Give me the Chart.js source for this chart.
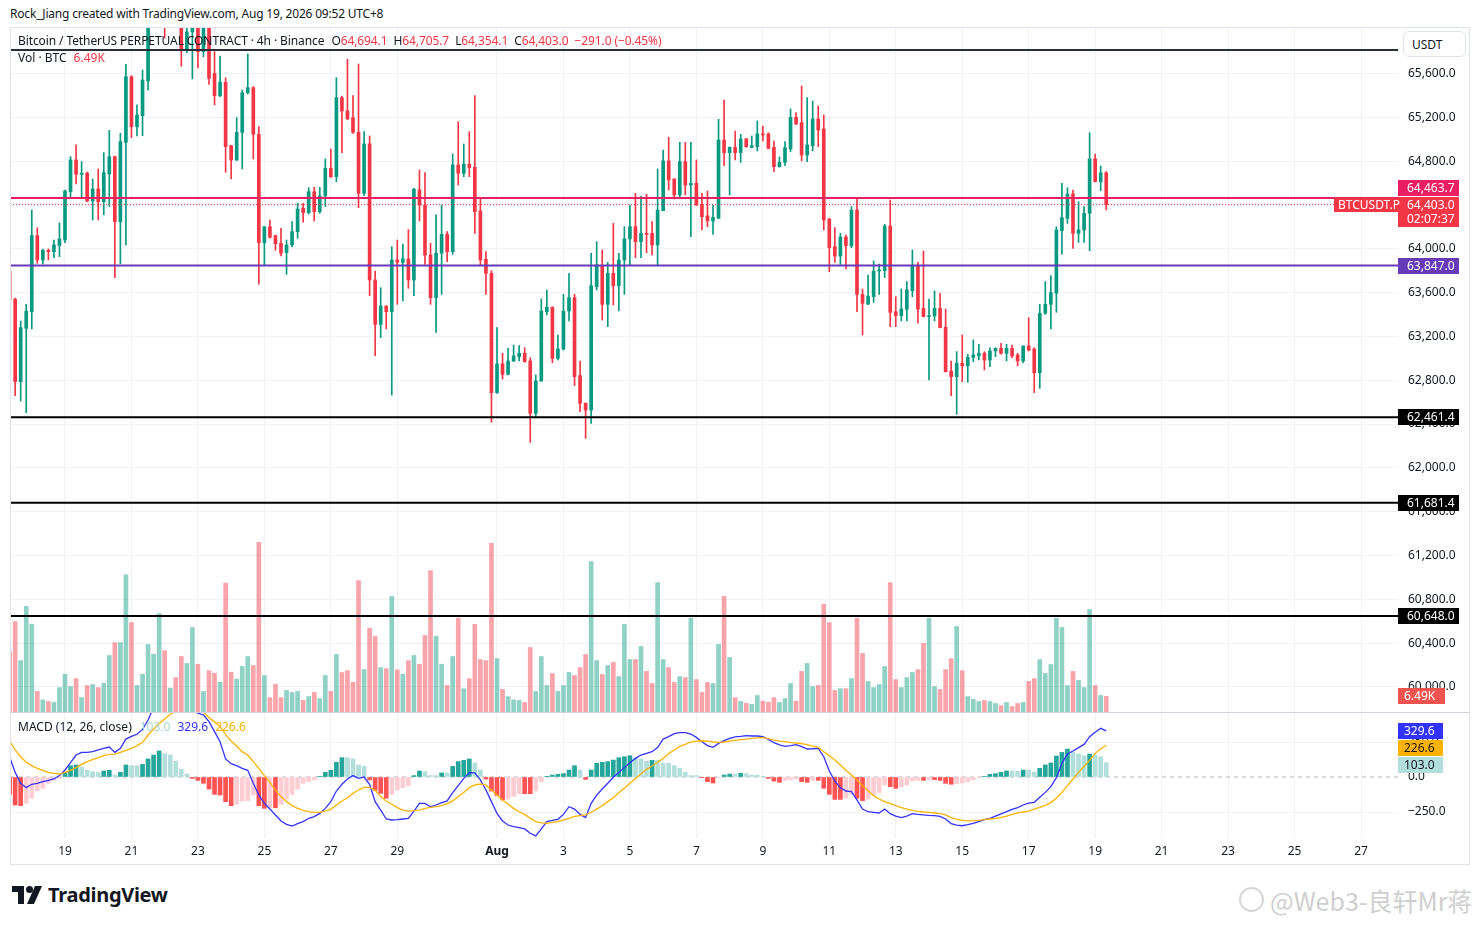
<!DOCTYPE html>
<html lang="en">
<head>
<meta charset="UTF-8">
<title>BTCUSDT.P 4h</title>
<script src="https://cdn.jsdelivr.net/npm/chart.js"></script>
<style>
  body { margin: 0; background: #fff; font-family: 'Noto Sans', sans-serif; color: #131722; }
  .wrap { position: relative; width: 1481px; height: 925px; overflow: hidden; background: #fff; }
  .abs { position: absolute; white-space: nowrap; }
  .pane { position: absolute; left: 10px; width: 1460px; }
  .txt { font-size: 12px; line-height: 16px; height: 16px; }
  .red { color: #f23645; }
  .tag { position: absolute; left: 1398px; width: 61px; font-size: 12px; line-height: 16px; color: #fff; padding-left: 9px; box-sizing: border-box; white-space: nowrap; }
  .frame { position: absolute; left: 10px; top: 27px; width: 1460px; height: 838px; border: 1px solid #e0e3eb; box-sizing: border-box; pointer-events: none; }
</style>
</head>
<body>
<div class="wrap" id="wrap">
  <div class="abs txt" style="left:10px; top:6px; letter-spacing:-0.2px;">Rock_Jiang created with TradingView.com, Aug 19, 2026 09:52 UTC+8</div>

  <div class="pane" style="top:27px; height:686px;"><canvas id="main" width="1460" height="686"></canvas></div>
  <div class="pane" style="top:713px; height:152px;"><canvas id="macd" width="1460" height="152"></canvas></div>

  <div class="frame"></div>
  <div class="abs" style="left:10px; top:712px; width:1460px; height:1px; background:#d1d4dc;"></div>

  <div class="abs txt" id="legend1" style="left:18px; top:33px; letter-spacing:-0.1px;"></div>
  <div class="abs txt" id="legend2" style="left:18px; top:50px;"></div>
  <div class="abs txt" id="legend3" style="left:18px; top:719px;"></div>

  <div class="abs txt" style="left:1403px; top:31px; width:63px; height:26px; line-height:26px; border:1px solid #e0e3eb; border-radius:6px; box-sizing:border-box; padding-left:8px; background:#fff;">USDT</div>

  <div id="tags"></div>

  <svg class="abs" style="left:12px; top:886px;" width="30" height="18" viewBox="0 0 30 18">
    <path d="M0 0 H12 V18 H6 V6 H0 Z" fill="#131722"/>
    <circle cx="17.5" cy="3.5" r="3.5" fill="#131722"/>
    <path d="M23 0 H30 L22 18 H15 Z" fill="#131722"/>
  </svg>
  <div class="abs" style="left:48px; top:881px; font-size:20px; line-height:28px; font-weight:700; letter-spacing:-0.3px;">TradingView</div>

  <div class="abs" style="left:1239px; top:887px; width:25px; height:25px; border:2px solid #d6d6d6; border-radius:50%; box-sizing:border-box;"></div>
  <div class="abs" style="left:1270px; top:883px; font-family:'Noto Sans CJK SC', 'Noto Sans', sans-serif; font-size:25px; line-height:34px; color:#cfcfcf;">@Web3-良轩Mr蒋</div>
</div>

<script>
// candle index: 0 = Jul 19 00:00 (UTC+8), one step = 4h; first bar is Jul 17 08:00
const firstIndex = -10;

const opens = [
  63797, 63540, 62787, 63274, 63426, 64120, 63898, 63986, 63974, 64029,
  64080, 64522, 64811, 64680, 64690, 64436, 64546, 64430, 64683, 64841,
  64248, 64972, 65571, 65115, 65215, 65532, 66150, 66250, 66400, 66150,
  66300, 66150, 65815, 65980, 66060, 65800, 66100, 65600, 65398, 65520,
  64941, 64811, 65063, 65425, 65471, 65045, 64056, 64202, 64120, 64050,
  63965, 64035, 64156, 64369, 64330, 64521, 64339, 64482, 64735, 64658,
  65380, 65258, 65197, 65063, 64506, 64957, 63715, 63310, 63478, 63426,
  63898, 63876, 63907, 63715, 64537, 64400, 63943, 63554, 63959, 64132,
  63974, 64765, 64689, 64771, 64744, 64345, 63904, 63776, 62687, 62949,
  62854, 62976, 63016, 63046, 62976, 62498, 62793, 63426, 63466, 63000,
  63085, 63432, 63554, 62842, 62589, 62528, 63654, 63846, 63493, 63776,
  63663, 63898, 64090, 64202, 64065, 64141, 64141, 64035, 64348, 64802,
  64637, 64491, 64796, 64582, 64598, 64406, 64300, 64254, 64278, 64993,
  64878, 64926, 64878, 65002, 64926, 64932, 65048, 65048, 64926, 64750,
  64789, 64911, 65200, 65152, 64856, 64941, 65185, 65094, 64272, 64019,
  63934, 64108, 64026, 64354, 63584, 63496, 63563, 63797, 63800, 64208,
  63426, 63390, 63447, 63618, 63846, 63456, 63381, 63387, 63456, 63283,
  62884, 62833, 62955, 62933, 63009, 63025, 63046, 62985, 63067, 63091,
  63046, 63091, 63031, 62976, 63113, 63085, 62869, 63411, 63493, 63594,
  64166, 64278, 64500, 64141, 64172, 64324, 64820, 64613, 64694.1
];
const highs = [
  64050, 63550, 63341, 63493, 64354, 64193, 63998, 63998, 64080, 64236,
  64535, 64841, 64948, 64796, 64700, 64637, 64729, 64878, 65081, 64847,
  65054, 65684, 65580, 65313, 65632, 66250, 66350, 66500, 66450, 66380,
  66350, 66200, 66080, 66100, 66120, 66200, 66150, 65800, 65760, 65562,
  64945, 65197, 65450, 65778, 65480, 65115, 64202, 64263, 64125, 64187,
  64080, 64248, 64415, 64415, 64558, 64561, 64561, 64820, 64911, 65562,
  65395, 65730, 65398, 65687, 65069, 65030, 63797, 63645, 63480, 64019,
  64080, 64044, 64175, 64552, 64719, 64695, 64050, 64309, 64400, 64156,
  64865, 65160, 64957, 65069, 65398, 64461, 63974, 63800, 63280, 63046,
  63091, 63122, 63116, 63097, 63006, 62848, 63542, 63624, 63472, 63213,
  63584, 63776, 63584, 62976, 62595, 63959, 64065, 63989, 63876, 64232,
  63959, 64202, 64400, 64506, 64482, 64497, 64248, 64729, 64902, 65018,
  64640, 64972, 64972, 64972, 64811, 64506, 64528, 64400, 65182, 65358,
  64930, 65075, 65045, 65008, 65030, 65167, 65121, 65060, 64984, 64838,
  64978, 65276, 65243, 65486, 65380, 65349, 65304, 65221, 64275, 64193,
  64141, 64126, 64385, 64470, 63633, 63761, 63889, 63861, 64223, 64445,
  63563, 63633, 63700, 63989, 63876, 63980, 63542, 63615, 63593, 63450,
  62976, 63061, 63213, 63037, 63168, 63128, 63061, 63097, 63097, 63137,
  63128, 63122, 63046, 63113, 63371, 63097, 63493, 63700, 63755, 64202,
  64598, 64558, 64537, 64430, 64385, 65060, 64865, 64756, 64705.7
];
const lows = [
  63365, 62659, 62611, 62504, 63268, 63867, 63861, 63898, 63919, 63928,
  64056, 64476, 64592, 64461, 64430, 64263, 64263, 64309, 64385, 63737,
  63864, 64035, 65015, 65030, 65033, 65450, 66080, 66200, 65924, 66100,
  66080, 65667, 65790, 65550, 65650, 65753, 65500, 65313, 65389, 64698,
  64637, 64805, 64729, 65413, 64820, 63676, 63852, 64096, 63986, 63934,
  63767, 64019, 64096, 64242, 64318, 64254, 64324, 64385, 64652, 64613,
  64878, 65180, 65054, 64375, 64485, 63572, 63024, 63189, 63268, 62665,
  63493, 63523, 63639, 63572, 64254, 63858, 63493, 63237, 63584, 63882,
  63950, 64582, 64658, 64658, 64141, 63846, 63584, 62416, 62680, 62811,
  62848, 62970, 62976, 62965, 62233, 62468, 62790, 63396, 62960, 62985,
  63076, 63341, 62751, 62513, 62270, 62407, 63624, 63350, 63289, 63487,
  63432, 63584, 63852, 63919, 63919, 63965, 63943, 63852, 64345, 64537,
  64455, 64467, 64491, 64111, 64395, 64172, 64202, 64132, 64275, 64759,
  64491, 64811, 64789, 64926, 64920, 64893, 64984, 64911, 64704, 64745,
  64759, 64887, 65135, 64802, 64796, 64893, 64932, 64172, 63791, 63876,
  63858, 63816, 64010, 63426, 63213, 63490, 63511, 63584, 63737, 63289,
  63289, 63341, 63341, 63563, 63320, 63378, 62803, 63341, 63278, 62875,
  62659, 62489, 62787, 62781, 62970, 62985, 62894, 62924, 63015, 63037,
  62976, 63006, 62933, 62960, 63067, 62687, 62726, 63402, 63268, 63420,
  63950, 64232, 64004, 64059, 64059, 63983, 64610, 64531, 64354.1
];
const closes = [
  63533, 62787, 63280, 63432, 64120, 63898, 63986, 63974, 64035, 64090,
  64528, 64811, 64680, 64690, 64436, 64546, 64430, 64695, 64841, 64248,
  64978, 65571, 65115, 65221, 65541, 66150, 66250, 66400, 66150, 66300,
  66150, 65815, 65980, 66060, 65800, 66100, 65556, 65398, 65520, 64932,
  64811, 65063, 65425, 65471, 65045, 64056, 64202, 64105, 64047, 63959,
  64035, 64156, 64363, 64330, 64521, 64339, 64482, 64735, 64658, 65380,
  65258, 65185, 65063, 64506, 64957, 63715, 63310, 63478, 63426, 63898,
  63876, 63907, 63715, 64543, 64400, 63943, 63554, 63959, 64132, 63974,
  64765, 64689, 64771, 64741, 64339, 63898, 63776, 62687, 62949, 62854,
  62976, 63022, 63046, 62970, 62498, 62793, 63432, 63466, 63000, 63085,
  63432, 63554, 62833, 62589, 62528, 63663, 63852, 63493, 63776, 63663,
  63898, 64090, 64202, 64065, 64141, 64132, 64035, 64354, 64802, 64628,
  64491, 64796, 64582, 64598, 64400, 64293, 64254, 64287, 64993, 64878,
  64926, 64878, 65002, 64932, 64941, 65048, 65039, 64917, 64750, 64789,
  64923, 65200, 65139, 64856, 64948, 65185, 65084, 64263, 64010, 63934,
  64108, 64029, 64354, 63584, 63502, 63569, 63797, 63806, 64208, 63420,
  63390, 63450, 63624, 63846, 63450, 63381, 63390, 63456, 63280, 62878,
  62833, 62955, 62933, 63009, 63031, 63046, 62985, 63067, 63091, 63046,
  63091, 63022, 62976, 63113, 63076, 62869, 63411, 63493, 63600, 64172,
  64284, 64500, 64141, 64172, 64324, 64820, 64613, 64694.0, 64403.0
];
// volume in thousands of BTC
const volumes = [
  23.6, 35.6, 20.4, 41.5, 34.6, 8.4, 5.1, 4.5, 4.1, 9.9,
  15.1, 10.3, 13.4, 6.0, 10.7, 11.1, 9.9, 11.6, 22.4, 27.4,
  27.4, 53.8, 35.2, 10.7, 15.1, 26.7, 22.9, 38.7, 24.3, 9.7,
  13.8, 22.0, 19.3, 33.3, 19.0, 8.4, 16.5, 15.5, 12.0, 50.6,
  15.9, 13.2, 18.1, 22.0, 18.5, 66.5, 14.6, 6.0, 11.2, 6.0,
  8.8, 8.0, 8.4, 4.9, 6.4, 8.0, 5.6, 14.6, 8.4, 22.8,
  15.8, 16.5, 12.0, 51.6, 16.9, 33.0, 29.8, 17.7, 17.3, 45.4,
  16.8, 15.1, 20.4, 22.4, 19.0, 30.2, 55.5, 29.8, 19.0, 10.7,
  22.0, 36.9, 9.5, 13.4, 34.5, 20.8, 20.4, 66.1, 21.2, 9.2,
  6.4, 5.1, 4.9, 4.1, 25.5, 8.4, 22.0, 10.7, 15.4, 8.4,
  10.7, 15.8, 14.6, 17.7, 22.8, 59.0, 20.4, 15.0, 18.5, 19.7,
  14.2, 34.5, 20.8, 20.8, 25.9, 16.2, 11.5, 50.8, 20.8, 17.7,
  11.9, 14.2, 13.8, 36.9, 13.0, 8.0, 11.9, 11.5, 26.7, 45.4,
  21.6, 6.0, 4.5, 3.8, 3.4, 6.8, 4.6, 4.2, 6.0, 4.1,
  5.6, 11.5, 4.6, 16.2, 19.3, 10.3, 10.7, 42.3, 35.2, 8.8,
  9.5, 9.5, 13.4, 36.9, 23.2, 12.3, 9.9, 11.1, 18.1, 50.8,
  13.0, 9.9, 13.8, 15.8, 16.9, 27.1, 36.9, 10.3, 9.2, 16.9,
  21.2, 33.7, 16.5, 6.4, 5.3, 4.5, 4.9, 4.5, 3.7, 2.9,
  4.1, 2.5, 3.7, 4.1, 12.3, 13.4, 20.8, 15.4, 18.9, 36.9,
  33.3, 10.7, 16.2, 12.7, 9.9, 40.3, 10.7, 6.8, 6.49
];
const macdLine = [
  145, 33, -45, -76, -52, -45, -33, -24, -14, 10,
  50, 102, 157, 176, 176, 181, 193, 205, 214, 176,
  205, 271, 290, 305, 340, 407, 500, 569, 574, 600,
  584, 535, 506, 476, 456, 443, 395, 324, 252, 129,
  95, 81, 62, 48, -45, -129, -188, -229, -271, -314,
  -338, -350, -333, -319, -295, -283, -260, -224, -176, -100,
  -52, -14, 10, -10, 0, -52, -176, -236, -300, -307,
  -305, -300, -295, -243, -188, -188, -212, -200, -183, -171,
  -112, -62, -10, 31, 29, -21, -93, -176, -260, -314,
  -343, -355, -362, -371, -402, -421, -371, -319, -310, -302,
  -267, -212, -229, -267, -290, -188, -129, -86, -45, -2,
  33, 67, 102, 133, 157, 169, 181, 210, 271, 288,
  310, 317, 317, 307, 283, 252, 224, 212, 240, 260,
  276, 286, 290, 295, 293, 293, 288, 269, 245, 229,
  219, 224, 231, 217, 200, 202, 205, 145, 43, -29,
  -76, -100, -105, -164, -229, -248, -252, -257, -229, -262,
  -279, -290, -279, -262, -267, -271, -274, -276, -281, -300,
  -333, -343, -348, -340, -331, -319, -305, -295, -279, -264,
  -248, -231, -219, -200, -186, -181, -145, -110, -69, -5,
  98, 164, 186, 210, 233, 288, 319, 348, 329.6
];
const signalLine = [
  257, 193, 145, 105, 81, 62, 48, 33, 26, 21,
  33, 48, 67, 90, 110, 124, 138, 152, 162, 164,
  176, 190, 205, 224, 248, 300, 343, 383, 414, 448,
  470, 480, 485, 486, 478, 462, 424, 395, 360, 305,
  257, 221, 181, 157, 110, 62, 10, -38, -93, -140,
  -176, -205, -224, -238, -248, -252, -252, -243, -229, -200,
  -171, -148, -117, -93, -74, -74, -95, -140, -171, -195,
  -219, -236, -243, -240, -236, -224, -217, -212, -205, -190,
  -171, -140, -110, -76, -57, -50, -57, -93, -129, -164,
  -195, -224, -248, -267, -295, -319, -328, -331, -324, -319,
  -307, -295, -281, -276, -271, -252, -229, -205, -176, -148,
  -112, -81, -45, -10, 24, 55, 79, 105, 133, 167,
  193, 219, 233, 250, 257, 259, 257, 250, 248, 250,
  257, 262, 267, 271, 276, 279, 281, 274, 264, 257,
  252, 245, 243, 238, 231, 221, 212, 181, 152, 121,
  86, 48, 14, -21, -62, -98, -133, -157, -176, -190,
  -205, -219, -229, -238, -245, -250, -252, -257, -262, -271,
  -290, -302, -310, -314, -314, -310, -305, -300, -295, -288,
  -279, -267, -257, -250, -243, -229, -217, -202, -183, -152,
  -110, -62, -14, 33, 76, 119, 169, 200, 226.6
];
const histogram = [
  -124, -200, -205, -188, -152, -100, -81, -45, -24, -10,
  33, 81, 86, 71, 48, 38, 33, 43, 48, 14,
  33, 86, 81, 81, 90, 129, 157, 186, 167, 157,
  114, 55, 21, -10, -24, -45, -86, -124, -129, -176,
  -205, -195, -171, -169, -129, -205, -224, -219, -219, -195,
  -157, -124, -86, -45, -33, -21, 2, 33, 48, 105,
  138, 138, 129, 86, 76, -21, -95, -117, -152, -124,
  -93, -76, -62, 10, 43, 38, 10, 10, 29, 29,
  76, 110, 119, 129, 100, 50, -15, -100, -133, -164,
  -157, -138, -119, -119, -119, -100, -33, 5, 14, 19,
  24, 50, 81, 50, -17, 50, 98, 105, 110, 121,
  138, 145, 152, 138, 129, 114, 119, 119, 98, 98,
  81, 62, 33, 10, 10, -5, -33, -43, -5, 14,
  21, 21, 26, 24, 14, 14, 5, -10, -29, -38,
  -24, -19, -14, -33, -38, -24, -24, -81, -124, -160,
  -160, -150, -124, -152, -169, -157, -129, -110, -57, -69,
  -81, -71, -57, -29, -24, -24, -19, -19, -24, -45,
  -52, -48, -43, -33, -19, -3, 5, 19, 24, 33,
  43, 43, 40, 50, 50, 36, 62, 86, 100, 150,
  176, 200, 176, 164, 152, 164, 157, 145, 103.0
];

// time axis ticks (candle index of each labelled day) and their labels
const dayTickPos = [0, 12, 24, 36, 48, 60, 78, 90, 102, 114, 126, 138, 150, 162, 174, 186, 198, 210, 222, 234];
const dayTickLabels = ['19', '21', '23', '25', '27', '29', 'Aug', '3', '5', '7', '9', '11', '13', '15', '17', '19', '21', '23', '25', '27'];
const priceTicks = [60000, 60400, 60800, 61200, 61600, 62000, 62400, 62800, 63200, 63600, 64000, 64400, 64800, 65200, 65600];
const macdTicks = [-250, 0, 250];

// horizontal levels drawn on the chart
const levels = [65815, 64463.7, 63847.0, 62461.4, 61681.4, 60648.0];
const levelStyle = [
  { color: '#2a2e39', tag: null },
  { color: '#e91e63', tag: '#e91e63' },
  { color: '#673ab7', tag: '#673ab7' },
  { color: '#000000', tag: '#000000' },
  { color: '#000000', tag: '#000000' },
  { color: '#000000', tag: '#000000' }
];

// visible window
const X_MIN = -9.93, X_MAX = 240.68;
const Y_MIN = 59762.6, Y_MAX = 66024.5;
const VOL_MAX = 267.1;
const M_MIN = -435.7, M_MAX = 457.2;

const UP = '#089981', DOWN = '#f23645';
const VOL_UP = 'rgba(8,153,129,0.45)', VOL_DOWN = 'rgba(242,54,69,0.45)';
const GRID = '#f0f2f5';
const MACD_COLOR = '#3333ff', SIGNAL_COLOR = '#ffb300';

Chart.defaults.font.family = "'Noto Sans', sans-serif";
Chart.defaults.font.size = 12;
Chart.defaults.color = '#131722';

const idx = opens.map((_, i) => firstIndex + i);
const isUp = closes.map((c, i) => c >= opens[i]);
const candleColors = isUp.map(u => u ? UP : DOWN);
const last = closes.length - 1;

const fmt = v => {
  const s = Math.abs(v).toLocaleString('en-US', { minimumFractionDigits: 1, maximumFractionDigits: 1 });
  return v < 0 ? '\u2212' + s : s;
};

// keep the plot area exactly the size of the pane (no label padding)
const noPad = s => { s.paddingTop = 0; s.paddingBottom = 0; s.paddingLeft = 0; s.paddingRight = 0; };

const flatLine = (y, color, width, dash) => ({
  type: 'line',
  data: [{ x: X_MIN, y: y }, { x: X_MAX, y: y }],
  borderColor: color,
  borderWidth: width,
  borderDash: dash || [],
  pointRadius: 0,
  order: 1
});

const timeAxis = (showLabels) => ({
  type: 'linear',
  min: X_MIN,
  max: X_MAX,
  offset: false,
  afterBuildTicks: s => { s.ticks = dayTickPos.map(v => ({ value: v })); },
  grid: { color: GRID, drawTicks: false, offset: false },
  border: { display: false },
  ticks: {
    display: showLabels,
    autoSkip: false,
    maxRotation: 0,
    padding: 6,
    callback: (v, i) => dayTickLabels[i],
    font: ctx => ({ size: 12, weight: ctx.tick && ctx.tick.label === 'Aug' ? 'bold' : 'normal' })
  },
  afterFit: s => { s.height = showLabels ? 27 : 0; noPad(s); }
});

const priceAxis = (min, max, tickList) => ({
  type: 'linear', position: 'right',
  min: min, max: max,
  afterBuildTicks: s => { s.ticks = tickList.map(v => ({ value: v })); },
  grid: { color: GRID, drawTicks: false },
  border: { display: false },
  ticks: { padding: 10, autoSkip: false, callback: v => fmt(v) },
  afterFit: s => { s.width = 72; noPad(s); }
});

// main pane: candles + volume + levels
const mainChart = new Chart(document.getElementById('main'), {
  type: 'bar',
  data: {
    datasets: [
      {
        label: 'Vol', yAxisID: 'yVol',
        data: idx.map((x, i) => ({ x: x, y: volumes[i] })),
        backgroundColor: isUp.map(u => u ? VOL_UP : VOL_DOWN),
        barThickness: 4, grouped: false, order: 10
      },
      {
        label: 'wick', yAxisID: 'y',
        data: idx.map((x, i) => ({ x: x, y: [lows[i], highs[i]] })),
        backgroundColor: candleColors,
        barThickness: 1, grouped: false, order: 3
      },
      {
        label: 'body', yAxisID: 'y',
        data: idx.map((x, i) => ({ x: x, y: [opens[i], closes[i]] })),
        backgroundColor: candleColors,
        barThickness: 3, grouped: false, minBarLength: 1, order: 2
      },
      ...levels.map((v, k) => flatLine(v, levelStyle[k].color, 2)),
      flatLine(closes[last], DOWN, 1, [1, 2])
    ]
  },
  options: {
    responsive: false,
    animation: false,
    events: [],
    layout: { padding: 0 },
    plugins: { legend: { display: false }, tooltip: { enabled: false } },
    scales: {
      x: timeAxis(false),
      y: priceAxis(Y_MIN, Y_MAX, priceTicks),
      yVol: { type: 'linear', display: false, min: 0, max: VOL_MAX }
    }
  }
});

// MACD pane
const histColors = histogram.map((h, i) => {
  const prev = i > 0 ? histogram[i - 1] : h;
  if (h >= 0) return prev < h ? '#26a69a' : '#b2dfdb';
  return prev < h ? '#ffcdd2' : '#ff5252';
});

const macdY = priceAxis(M_MIN, M_MAX, macdTicks);
macdY.grid.color = ctx => ctx.tick && ctx.tick.value === 0 ? 'rgba(0,0,0,0)' : GRID;

const macdChart = new Chart(document.getElementById('macd'), {
  type: 'bar',
  data: {
    datasets: [
      Object.assign(flatLine(0, 'rgba(120,123,134,0.55)', 1, [4, 4]), { order: 6 }),
      {
        label: 'Histogram',
        data: idx.map((x, i) => ({ x: x, y: histogram[i] })),
        backgroundColor: histColors,
        barThickness: 4, grouped: false, order: 4
      },
      {
        type: 'line', label: 'MACD',
        data: idx.map((x, i) => ({ x: x, y: macdLine[i] })),
        borderColor: MACD_COLOR, borderWidth: 1.3, pointRadius: 0, tension: 0, order: 2
      },
      {
        type: 'line', label: 'Signal',
        data: idx.map((x, i) => ({ x: x, y: signalLine[i] })),
        borderColor: SIGNAL_COLOR, borderWidth: 1.3, pointRadius: 0, tension: 0, order: 1
      }
    ]
  },
  options: {
    responsive: false,
    animation: false,
    events: [],
    layout: { padding: 0 },
    plugins: { legend: { display: false }, tooltip: { enabled: false } },
    scales: {
      x: timeAxis(true),
      y: macdY
    }
  }
});

// legends
const span = (t, cls, style) => '<span' + (cls ? ' class="' + cls + '"' : '') + (style ? ' style="' + style + '"' : '') + '>' + t + '</span>';
const change = closes[last] - closes[last - 1];
const pct = change / closes[last - 1] * 100;
document.getElementById('legend1').innerHTML =
  'Bitcoin / TetherUS PERPETUAL CONTRACT \u00b7 4h \u00b7 Binance' +
  span('O' + span(fmt(opens[last]), 'red'), '', 'margin-left:7px') +
  span('H' + span(fmt(highs[last]), 'red'), '', 'margin-left:6px') +
  span('L' + span(fmt(lows[last]), 'red'), '', 'margin-left:6px') +
  span('C' + span(fmt(closes[last]), 'red'), '', 'margin-left:6px') +
  span(fmt(change) + ' (' + (pct < 0 ? '\u2212' : '+') + Math.abs(pct).toFixed(2) + '%)', 'red', 'margin-left:6px');
document.getElementById('legend2').innerHTML =
  'Vol \u00b7 BTC' + span(volumes[last].toFixed(2) + 'K', 'red', 'margin-left:7px');
document.getElementById('legend3').innerHTML =
  'MACD (12, 26, close)' +
  span(fmt(histogram[last]), '', 'margin-left:8px; color:#a8d8d3') +
  span(fmt(macdLine[last]), '', 'margin-left:7px; color:' + MACD_COLOR) +
  span(fmt(signalLine[last]), '', 'margin-left:7px; color:' + SIGNAL_COLOR);

// price-scale tags, placed from the scales
const tags = document.getElementById('tags');
function addTag(html, top, bg, opts) {
  const d = document.createElement('div');
  d.className = 'tag';
  d.innerHTML = html;
  d.style.top = top + 'px';
  d.style.background = bg;
  if (opts) Object.assign(d.style, opts);
  tags.appendChild(d);
  return d;
}
const MAIN_TOP = 27, MACD_TOP = 713;
const py = v => MAIN_TOP + mainChart.scales.y.getPixelForValue(v);

const curTop = Math.round(py(closes[last]) - 8);
addTag(fmt(closes[last]) + '<br>02:07:37', curTop, DOWN, { height: '30px', lineHeight: '14px', paddingTop: '1px' });
addTag('BTCUSDT.P', curTop + 1, DOWN, { left: '1334px', width: '64px', height: '14px', lineHeight: '14px', paddingLeft: '4px' });
levels.forEach((v, k) => {
  if (!levelStyle[k].tag) return;
  let top = Math.round(py(v) - 8);
  if (top + 16 > curTop && top < curTop + 30) top = curTop - 17;
  addTag(fmt(v), top, levelStyle[k].tag, { height: '16px' });
});
const volTop = Math.round(MAIN_TOP + mainChart.scales.yVol.getPixelForValue(volumes[last]) - 8);
addTag(volumes[last].toFixed(2) + 'K', volTop, '#ef5350', { width: '47px', height: '16px', paddingLeft: '6px' });

const my = v => MACD_TOP + macdChart.scales.y.getPixelForValue(v);
const t1 = Math.round(my(macdLine[last]) - 8);
addTag(fmt(macdLine[last]), t1, MACD_COLOR, { width: '45px', height: '16px', paddingLeft: '6px' });
addTag(fmt(signalLine[last]), t1 + 17, SIGNAL_COLOR, { width: '45px', height: '16px', paddingLeft: '6px', color: '#131722' });
addTag(fmt(histogram[last]), t1 + 34, '#b2dfdb', { width: '45px', height: '16px', paddingLeft: '6px', color: '#131722' });
</script>
</body>
</html>
